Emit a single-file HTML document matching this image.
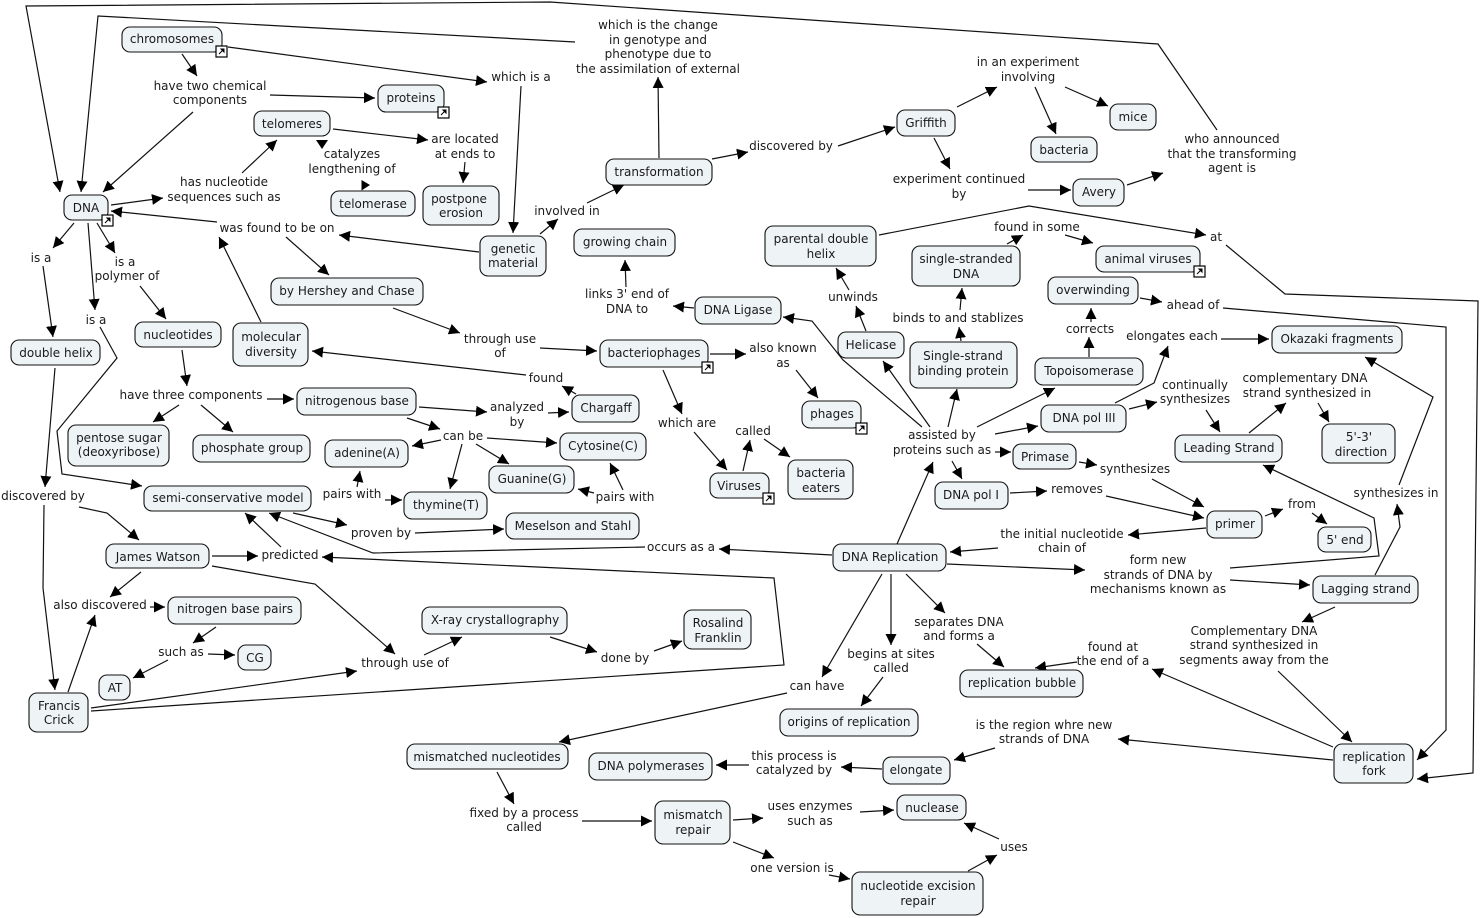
<!DOCTYPE html>
<html><head><meta charset="utf-8"><style>
html,body{margin:0;padding:0;background:#fff}
svg{display:block}
text{font-family:"DejaVu Sans","Liberation Sans",sans-serif;font-size:12px;fill:#1a1a1a;text-anchor:middle}
.l polyline{fill:none;stroke:#111;stroke-width:1.2;marker-end:url(#a)}
.n rect{fill:#eef3f6;stroke:#111;stroke-width:1.1}
.i rect{fill:#fff;stroke:#000;stroke-width:1.2}
.i path{fill:#000;stroke:#000}
</style></head><body>
<svg width="1480" height="918" viewBox="0 0 1480 918" xmlns="http://www.w3.org/2000/svg">
<defs><marker id="a" markerWidth="12" markerHeight="12" refX="11" refY="5.5" orient="auto" markerUnits="userSpaceOnUse"><path d="M0 0L11 5.5L0 11z" fill="#000"/></marker></defs>
<g class="l">
<polyline points="1217,130 1158,44 550,2 26,6 60,192"/>
<polyline points="575,42 98,16 81,192"/>
<polyline points="182,54 197,76"/>
<polyline points="228,47 487,82"/>
<polyline points="521,86 513,233"/>
<polyline points="270,95 375,98"/>
<polyline points="193,112 103,192"/>
<polyline points="333,129 428,140"/>
<polyline points="465,162 463,183"/>
<polyline points="242,173 277,140"/>
<polyline points="111,205 163,198"/>
<polyline points="217,222 111,211"/>
<polyline points="286,237 329,275"/>
<polyline points="479,252 339,235"/>
<polyline points="261,322 219,237"/>
<polyline points="74,223 53,248"/>
<polyline points="97,223 115,253"/>
<polyline points="140,286 166,319"/>
<polyline points="43,266 53,337"/>
<polyline points="88,223 95,310"/>
<polyline points="100,327 117,358 57,431 62,474 142,486"/>
<polyline points="55,368 45,487"/>
<polyline points="79,507 107,513 139,540"/>
<polyline points="44,505 43,588 55,690"/>
<polyline points="212,556 258,556"/>
<polyline points="141,572 110,597"/>
<polyline points="150,607 165,607"/>
<polyline points="68,692 95,615"/>
<polyline points="281,547 245,513"/>
<polyline points="832,555 719,549"/>
<polyline points="645,547 373,553 269,513"/>
<polyline points="293,513 347,525"/>
<polyline points="415,533 504,529"/>
<polyline points="91,711 784,665 774,578 322,557"/>
<polyline points="91,708 357,671"/>
<polyline points="212,566 315,584 395,654"/>
<polyline points="424,655 462,637"/>
<polyline points="550,637 597,652"/>
<polyline points="654,651 682,641"/>
<polyline points="216,627 193,643"/>
<polyline points="208,654 235,655"/>
<polyline points="168,660 133,678"/>
<polyline points="393,308 460,333"/>
<polyline points="540,348 597,351"/>
<polyline points="182,350 187,386"/>
<polyline points="267,399 294,399"/>
<polyline points="179,405 153,422"/>
<polyline points="201,405 233,432"/>
<polyline points="419,407 487,412"/>
<polyline points="407,418 440,429"/>
<polyline points="548,413 569,412"/>
<polyline points="441,440 412,446"/>
<polyline points="487,438 557,443"/>
<polyline points="462,444 450,489"/>
<polyline points="476,444 509,464"/>
<polyline points="357,487 360,471"/>
<polyline points="385,500 402,500"/>
<polyline points="623,490 610,463"/>
<polyline points="594,493 578,489"/>
<polyline points="526,375 312,351"/>
<polyline points="576,394 562,386"/>
<polyline points="710,354 746,354"/>
<polyline points="796,370 818,398"/>
<polyline points="663,370 682,414"/>
<polyline points="694,432 727,470"/>
<polyline points="743,471 750,440"/>
<polyline points="764,439 790,457"/>
<polyline points="659,158 658,77"/>
<polyline points="712,159 748,152"/>
<polyline points="838,146 895,127"/>
<polyline points="957,107 997,87"/>
<polyline points="934,138 950,169"/>
<polyline points="1035,87 1056,134"/>
<polyline points="1065,87 1108,106"/>
<polyline points="1028,190 1071,190"/>
<polyline points="1127,185 1163,173"/>
<polyline points="540,234 558,219"/>
<polyline points="587,203 624,185"/>
<polyline points="879,235 1029,206 1206,235"/>
<polyline points="1226,245 1285,294 1478,301 1473,773 1417,779"/>
<polyline points="1223,308 1446,327 1446,730 1417,760"/>
<polyline points="1140,298 1162,302"/>
<polyline points="1091,322 1091,308"/>
<polyline points="1089,357 1089,337"/>
<polyline points="1007,244 1023,235"/>
<polyline points="1065,235 1093,243"/>
<polyline points="960,310 962,288"/>
<polyline points="961,341 959,327"/>
<polyline points="948,427 957,389"/>
<polyline points="977,427 1055,388"/>
<polyline points="995,434 1038,426"/>
<polyline points="995,452 1011,452"/>
<polyline points="952,461 962,479"/>
<polyline points="930,427 883,361"/>
<polyline points="922,427 843,360 812,321 783,317"/>
<polyline points="866,331 856,306"/>
<polyline points="849,290 836,268"/>
<polyline points="694,308 673,306"/>
<polyline points="626,287 625,260"/>
<polyline points="1115,403 1154,383 1168,346"/>
<polyline points="1221,339 1269,339"/>
<polyline points="1129,409 1157,402"/>
<polyline points="1206,410 1220,432"/>
<polyline points="1249,433 1286,403"/>
<polyline points="1318,403 1329,422"/>
<polyline points="1079,462 1097,465"/>
<polyline points="1152,479 1204,507"/>
<polyline points="1010,493 1047,491"/>
<polyline points="1106,496 1204,518"/>
<polyline points="1206,528 1128,535"/>
<polyline points="998,548 950,552"/>
<polyline points="1265,516 1283,509"/>
<polyline points="1312,513 1327,524"/>
<polyline points="1230,568 1379,556 1374,518 1263,465"/>
<polyline points="947,564 1085,570"/>
<polyline points="1230,580 1310,585"/>
<polyline points="1375,575 1400,527 1397,504"/>
<polyline points="1399,485 1433,397 1365,357"/>
<polyline points="1335,607 1302,622"/>
<polyline points="1278,671 1352,742"/>
<polyline points="1333,760 1118,739"/>
<polyline points="1333,747 1152,669"/>
<polyline points="1077,662 1035,668"/>
<polyline points="897,544 933,462"/>
<polyline points="882,574 822,677"/>
<polyline points="891,574 891,645"/>
<polyline points="906,574 945,613"/>
<polyline points="977,644 1004,667"/>
<polyline points="883,677 861,706"/>
<polyline points="787,693 559,742"/>
<polyline points="995,748 954,760"/>
<polyline points="882,769 841,767"/>
<polyline points="749,765 716,765"/>
<polyline points="497,772 514,804"/>
<polyline points="582,821 652,821"/>
<polyline points="733,820 763,818"/>
<polyline points="860,812 894,810"/>
<polyline points="733,842 774,858"/>
<polyline points="829,875 850,879"/>
<polyline points="968,871 997,855"/>
<polyline points="999,839 964,823"/>
</g>
<path d="M316 140H328L322 149z M361.500 180V190.500L370 185z" fill="#000"/>
<g class="n">
<rect x="122" y="27" width="100" height="25" rx="8"/><text x="172" y="43">chromosomes</text>
<rect x="378" y="85" width="66" height="27" rx="8"/><text x="411" y="102">proteins</text>
<rect x="254" y="111" width="76" height="25" rx="8"/><text x="292" y="128">telomeres</text>
<rect x="64" y="195" width="44" height="25" rx="8"/><text x="86" y="212">DNA</text>
<rect x="331" y="191" width="84" height="25" rx="8"/><text x="373" y="208">telomerase</text>
<rect x="423" y="186" width="76" height="39" rx="8"/><text x="459" y="203">postpone</text><text x="461" y="217">erosion</text>
<rect x="480" y="236" width="66" height="40" rx="8"/><text x="513" y="253">genetic</text><text x="513" y="267">material</text>
<rect x="271" y="278" width="152" height="27" rx="8"/><text x="347" y="295">by Hershey and Chase</text>
<rect x="606" y="159" width="106" height="26" rx="8"/><text x="659" y="176">transformation</text>
<rect x="574" y="229" width="101" height="27" rx="8"/><text x="625" y="246">growing chain</text>
<rect x="897" y="110" width="58" height="26" rx="8"/><text x="926" y="127">Griffith</text>
<rect x="1031" y="137" width="66" height="25" rx="8"/><text x="1064" y="154">bacteria</text>
<rect x="1110" y="104" width="46" height="26" rx="8"/><text x="1133" y="121">mice</text>
<rect x="1073" y="179" width="51" height="27" rx="8"/><text x="1099" y="196">Avery</text>
<rect x="765" y="226" width="111" height="40" rx="8"/><text x="821" y="243">parental double</text><text x="821" y="258">helix</text>
<rect x="912" y="246" width="108" height="40" rx="8"/><text x="966" y="263">single-stranded</text><text x="966" y="278">DNA</text>
<rect x="1096" y="246" width="104" height="26" rx="8"/><text x="1148" y="263">animal viruses</text>
<rect x="1048" y="277" width="90" height="27" rx="8"/><text x="1093" y="294">overwinding</text>
<rect x="695" y="297" width="86" height="27" rx="8"/><text x="738" y="314">DNA Ligase</text>
<rect x="838" y="332" width="66" height="26" rx="8"/><text x="871" y="349">Helicase</text>
<rect x="910" y="342" width="107" height="46" rx="8"/><text x="963" y="360">Single-strand</text><text x="963" y="375">binding protein</text>
<rect x="1035" y="358" width="108" height="27" rx="8"/><text x="1089" y="375">Topoisomerase</text>
<rect x="1272" y="326" width="130" height="27" rx="8"/><text x="1337" y="343">Okazaki fragments</text>
<rect x="600" y="340" width="108" height="27" rx="8"/><text x="654" y="357">bacteriophages</text>
<rect x="135" y="322" width="86" height="25" rx="8"/><text x="178" y="339">nucleotides</text>
<rect x="233" y="323" width="75" height="43" rx="8"/><text x="271" y="341">molecular</text><text x="271" y="356">diversity</text>
<rect x="11" y="340" width="89" height="25" rx="8"/><text x="56" y="357">double helix</text>
<rect x="297" y="388" width="119" height="27" rx="8"/><text x="357" y="405">nitrogenous base</text>
<rect x="572" y="395" width="67" height="27" rx="8"/><text x="606" y="412">Chargaff</text>
<rect x="802" y="401" width="59" height="27" rx="8"/><text x="832" y="418">phages</text>
<rect x="68" y="425" width="101" height="41" rx="8"/><text x="119" y="442">pentose sugar</text><text x="119" y="456">(deoxyribose)</text>
<rect x="193" y="435" width="117" height="27" rx="8"/><text x="252" y="452">phosphate group</text>
<rect x="325" y="440" width="83" height="27" rx="8"/><text x="367" y="457">adenine(A)</text>
<rect x="560" y="433" width="86" height="27" rx="8"/><text x="603" y="450">Cytosine(C)</text>
<rect x="1041" y="405" width="85" height="27" rx="8"/><text x="1084" y="422">DNA pol III</text>
<rect x="1322" y="424" width="73" height="39" rx="8"/><text x="1359" y="441">5'-3'</text><text x="1361" y="456">direction</text>
<rect x="1175" y="435" width="107" height="27" rx="8"/><text x="1229" y="452">Leading Strand</text>
<rect x="489" y="466" width="85" height="27" rx="8"/><text x="532" y="483">Guanine(G)</text>
<rect x="710" y="473" width="59" height="25" rx="8"/><text x="739" y="490">Viruses</text>
<rect x="788" y="460" width="65" height="39" rx="8"/><text x="821" y="477">bacteria</text><text x="821" y="492">eaters</text>
<rect x="1013" y="444" width="63" height="25" rx="8"/><text x="1045" y="461">Primase</text>
<rect x="935" y="482" width="73" height="27" rx="8"/><text x="971" y="499">DNA pol I</text>
<rect x="404" y="492" width="83" height="27" rx="8"/><text x="446" y="509">thymine(T)</text>
<rect x="144" y="486" width="167" height="25" rx="8"/><text x="228" y="502">semi-conservative model</text>
<rect x="506" y="513" width="133" height="26" rx="8"/><text x="573" y="530">Meselson and Stahl</text>
<rect x="1207" y="511" width="55" height="27" rx="8"/><text x="1235" y="528">primer</text>
<rect x="1318" y="527" width="53" height="25" rx="8"/><text x="1345" y="544">5' end</text>
<rect x="106" y="544" width="103" height="24" rx="8"/><text x="158" y="561">James Watson</text>
<rect x="833" y="544" width="113" height="27" rx="8"/><text x="890" y="561">DNA Replication</text>
<rect x="1313" y="576" width="105" height="27" rx="8"/><text x="1366" y="593">Lagging strand</text>
<rect x="168" y="597" width="133" height="27" rx="8"/><text x="235" y="613">nitrogen base pairs</text>
<rect x="422" y="607" width="145" height="27" rx="8"/><text x="495" y="624">X-ray crystallography</text>
<rect x="684" y="610" width="67" height="39" rx="8"/><text x="718" y="627">Rosalind</text><text x="718" y="642">Franklin</text>
<rect x="238" y="645" width="33" height="25" rx="8"/><text x="255" y="662">CG</text>
<rect x="99" y="675" width="31" height="25" rx="8"/><text x="115" y="692">AT</text>
<rect x="29" y="693" width="59" height="39" rx="8"/><text x="59" y="710">Francis</text><text x="59" y="724">Crick</text>
<rect x="960" y="670" width="123" height="27" rx="8"/><text x="1022" y="687">replication bubble</text>
<rect x="780" y="709" width="138" height="27" rx="8"/><text x="849" y="726">origins of replication</text>
<rect x="407" y="744" width="161" height="25" rx="8"/><text x="487" y="761">mismatched nucleotides</text>
<rect x="589" y="753" width="123" height="27" rx="8"/><text x="651" y="770">DNA polymerases</text>
<rect x="883" y="757" width="67" height="27" rx="8"/><text x="916" y="774">elongate</text>
<rect x="1334" y="744" width="79" height="39" rx="8"/><text x="1374" y="761">replication</text><text x="1374" y="775">fork</text>
<rect x="897" y="795" width="69" height="25" rx="8"/><text x="932" y="812">nuclease</text>
<rect x="655" y="801" width="75" height="43" rx="8"/><text x="693" y="819">mismatch</text><text x="693" y="834">repair</text>
<rect x="852" y="872" width="131" height="43" rx="8"/><text x="918" y="890">nucleotide excision</text><text x="918" y="905">repair</text>
</g>
<g class="i">
<g transform="translate(216,46)"><rect width="11" height="11"/><path d="M3 8L7 4M5 3H8V6z"/></g>
<g transform="translate(438,107)"><rect width="11" height="11"/><path d="M3 8L7 4M5 3H8V6z"/></g>
<g transform="translate(102,215)"><rect width="11" height="11"/><path d="M3 8L7 4M5 3H8V6z"/></g>
<g transform="translate(1194,266)"><rect width="11" height="11"/><path d="M3 8L7 4M5 3H8V6z"/></g>
<g transform="translate(702,362)"><rect width="11" height="11"/><path d="M3 8L7 4M5 3H8V6z"/></g>
<g transform="translate(856,423)"><rect width="11" height="11"/><path d="M3 8L7 4M5 3H8V6z"/></g>
<g transform="translate(763,493)"><rect width="11" height="11"/><path d="M3 8L7 4M5 3H8V6z"/></g>
</g>
<g>
<text x="658" y="29">which is the change</text><text x="658" y="44">in genotype and</text><text x="658" y="58">phenotype due to</text><text x="658" y="73">the assimilation of external</text>
<text x="521" y="81">which is a</text>
<text x="210" y="90">have two chemical</text><text x="210" y="104">components</text>
<text x="224" y="186">has nucleotide</text><text x="224" y="201">sequences such as</text>
<text x="352" y="158">catalyzes</text><text x="352" y="173">lengthening of</text>
<text x="465" y="143">are located</text><text x="465" y="158">at ends to</text>
<text x="277" y="232">was found to be on</text>
<text x="41" y="262">is a</text>
<text x="125" y="266">is a</text><text x="127" y="280">polymer of</text>
<text x="96" y="324">is a</text>
<text x="567" y="215">involved in</text>
<text x="191" y="399">have three components</text>
<text x="546" y="382">found</text>
<text x="500" y="343">through use</text><text x="500" y="357">of</text>
<text x="783" y="352">also known</text><text x="783" y="367">as</text>
<text x="687" y="427">which are</text>
<text x="753" y="435">called</text>
<text x="627" y="298">links 3' end of</text><text x="627" y="313">DNA to</text>
<text x="853" y="301">unwinds</text>
<text x="958" y="322">binds to and stablizes</text>
<text x="1037" y="231">found in some</text>
<text x="1216" y="241">at</text>
<text x="1028" y="66">in an experiment</text><text x="1028" y="81">involving</text>
<text x="791" y="150">discovered by</text>
<text x="959" y="183">experiment continued</text><text x="959" y="198">by</text>
<text x="1232" y="143">who announced</text><text x="1232" y="158">that the transforming</text><text x="1232" y="172">agent is</text>
<text x="1193" y="309">ahead of</text>
<text x="1090" y="333">corrects</text>
<text x="1172" y="340">elongates each</text>
<text x="1195" y="389">continually</text><text x="1195" y="403">synthesizes</text>
<text x="1305" y="382">complementary DNA</text><text x="1307" y="397">strand synthesized in</text>
<text x="1135" y="473">synthesizes</text>
<text x="1077" y="493">removes</text>
<text x="942" y="439">assisted by</text><text x="942" y="454">proteins such as</text>
<text x="517" y="411">analyzed</text><text x="517" y="426">by</text>
<text x="463" y="440">can be</text>
<text x="352" y="498">pairs with</text>
<text x="625" y="501">pairs with</text>
<text x="381" y="537">proven by</text>
<text x="1302" y="508">from</text>
<text x="1396" y="497">synthesizes in</text>
<text x="1062" y="538">the initial nucleotide</text><text x="1062" y="552">chain of</text>
<text x="681" y="551">occurs as a</text>
<text x="1158" y="564">form new</text><text x="1158" y="579">strands of DNA by</text><text x="1158" y="593">mechanisms known as</text>
<text x="43" y="500">discovered by</text>
<text x="290" y="559">predicted</text>
<text x="100" y="609">also discovered</text>
<text x="181" y="656">such as</text>
<text x="405" y="667">through use of</text>
<text x="625" y="662">done by</text>
<text x="817" y="690">can have</text>
<text x="891" y="658">begins at sites</text><text x="891" y="672">called</text>
<text x="959" y="626">separates DNA</text><text x="959" y="640">and forms a</text>
<text x="1113" y="651">found at</text><text x="1113" y="665">the end of a</text>
<text x="1254" y="635">Complementary DNA</text><text x="1254" y="649">strand synthesized in</text><text x="1254" y="664">segments away from the</text>
<text x="1044" y="729">is the region whre new</text><text x="1044" y="743">strands of DNA</text>
<text x="794" y="760">this process is</text><text x="794" y="774">catalyzed by</text>
<text x="524" y="817">fixed by a process</text><text x="524" y="831">called</text>
<text x="810" y="810">uses enzymes</text><text x="810" y="825">such as</text>
<text x="792" y="872">one version is</text>
<text x="1014" y="851">uses</text>
</g>
</svg>
</body></html>
